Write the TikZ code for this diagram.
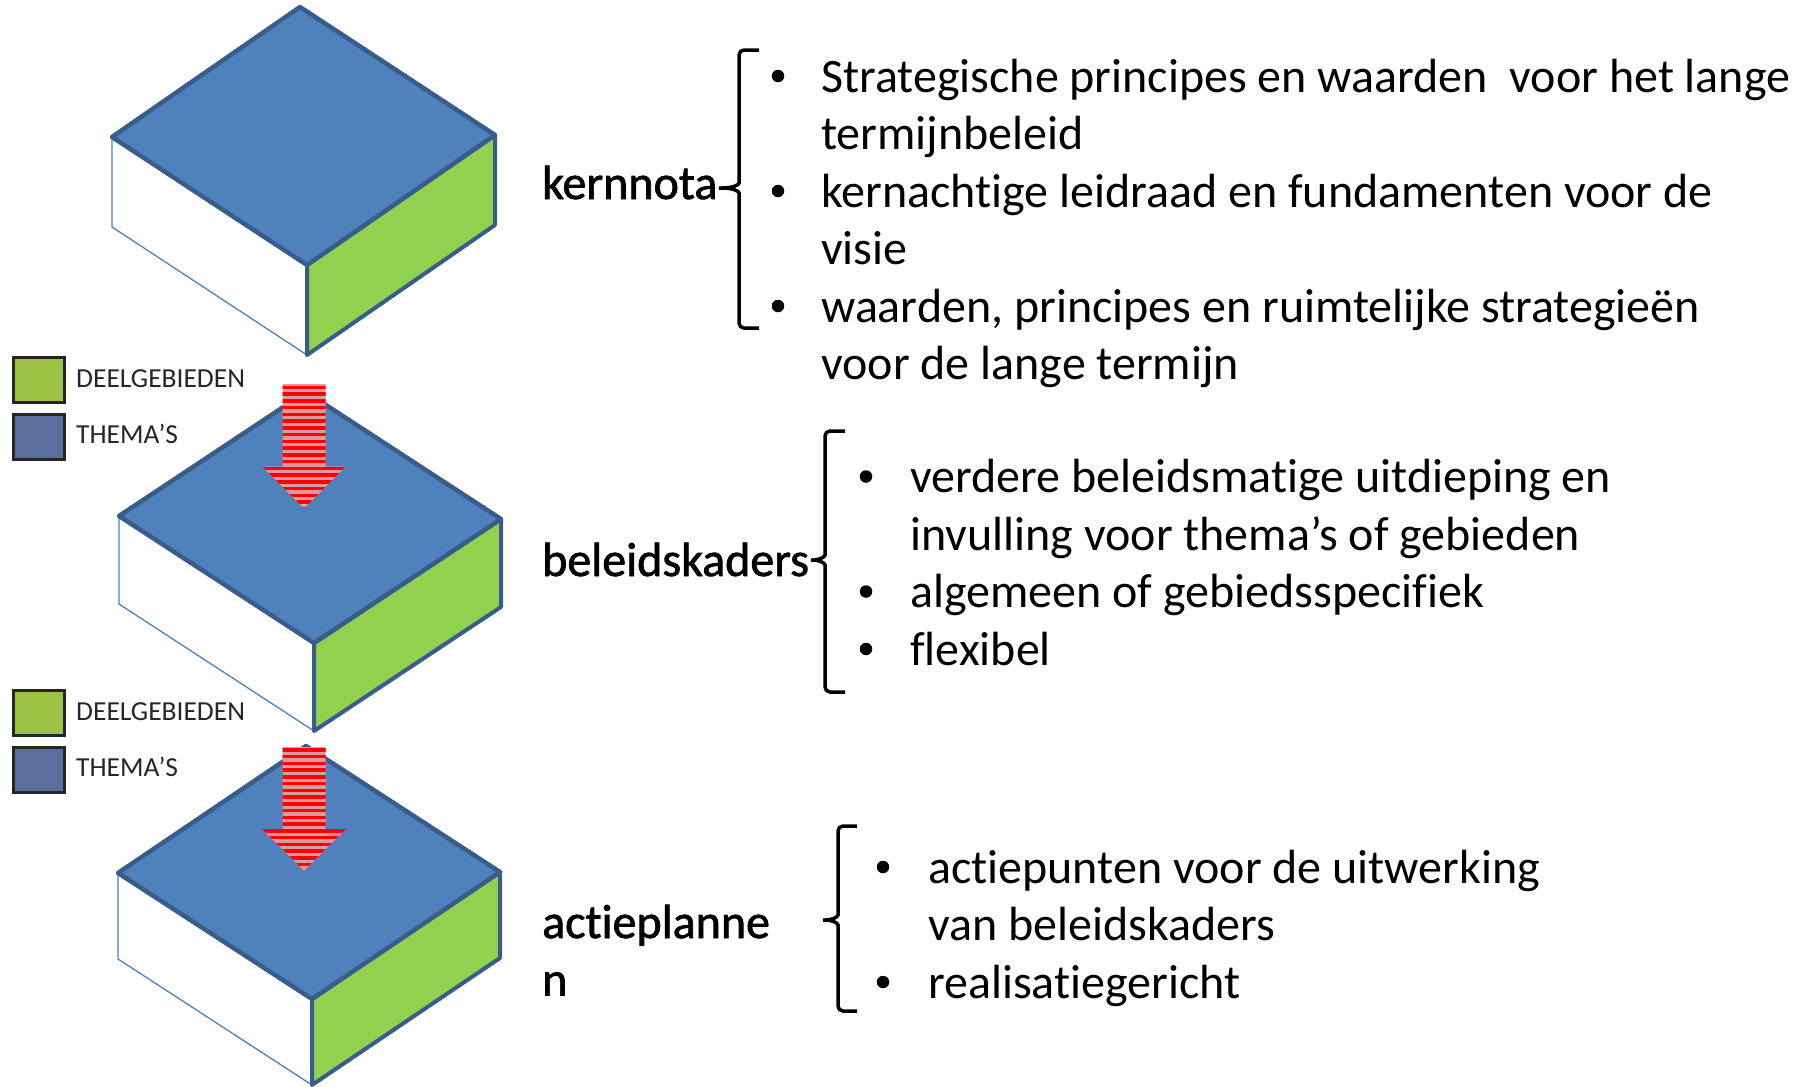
\documentclass[tikz,border=0pt]{standalone}
\usepackage{fontspec}
\setmainfont[Ligatures=NoCommon]{Carlito}
\newfontfamily\levelfont[Ligatures=NoCommon, FakeBold=1.5]{Carlito}
\definecolor{topblue}{HTML}{4F81BD}
\definecolor{edgeblue}{HTML}{385D8A}
\definecolor{sidegreen}{HTML}{92D050}
\definecolor{keygreen}{HTML}{9DC243}
\definecolor{keyblue}{HTML}{5A6F9B}
\definecolor{stripepink}{HTML}{DE9A9A}
\tikzset{
	topface/.style={fill=topblue, draw=edgeblue, line width=4.5pt, line join=round},
	greenface/.style={fill=sidegreen, draw=edgeblue, line width=4pt, line join=round},
	whiteface/.style={fill=white, draw=topblue, line width=1.3pt},
	keybox/.style={draw=black!85, line width=3pt},
	keytext/.style={anchor=west, inner sep=0pt, text=black!85, font=\fontsize{27.5}{30}\selectfont},
	level/.style={anchor=base west, inner sep=0pt, font=\levelfont\fontsize{48}{55}\selectfont},
	item/.style={anchor=base west, inner sep=0pt, font=\fontsize{48}{55}\selectfont},
	bul/.style={circle, fill=black, inner sep=0pt, minimum size=12.5pt},
	brace/.style={draw=black, line width=3.5pt, rounded corners=5pt}
}
\begin{document}
\begin{tikzpicture}[x=1pt, y=-1pt]
		\useasboundingbox (0,0) rectangle (1810,1087);
		% the three blocks
		\foreach \lx/\ly/\rx/\ry/\fx/\fy/\tx/\ty/\h in {112/137/495/135/307/265/300/7/90, 119/516/501/519/314/643/306/392/88, 118/873/500/872/312/999/306/746/86}
		{
			\draw [whiteface] (\lx,\ly) -- (\fx,\fy) -- (\fx,{\fy+\h}) -- (\lx,{\ly+\h}) -- cycle;
			\draw [greenface] (\fx,\fy) -- (\rx,\ry) -- (\rx,{\ry+\h}) -- (\fx,{\fy+\h}) -- cycle;
			\draw [topface] (\tx,\ty) -- (\rx,\ry) -- (\fx,\fy) -- (\lx,\ly) -- cycle;
		}
		% striped arrows
		\foreach \ay in {384,746.5}
		{
			\begin{scope}
				\path [clip] (282.5,\ay) -- (325.5,\ay) -- (325.5,{\ay+82.5}) -- (346,{\ay+82.5}) -- (304,{\ay+124.3}) -- (262,{\ay+82.5}) -- (282.5,{\ay+82.5}) -- cycle;
				\fill [stripepink] (255,\ay) rectangle (350,{\ay+126});
				\foreach \s in {0,...,18}
					\fill [red] (255,{\ay+1.7+\s*6.75}) rectangle (350,{\ay+5.1+\s*6.75});
			\end{scope}
		}
		% legends
		\foreach \ky in {0,333}
		{
			\draw [keybox, fill=keygreen] (13,{357+\ky}) rectangle (64,{402+\ky});
			\draw [keybox, fill=keyblue] (13,{414+\ky}) rectangle (64,{459+\ky});
		}
		\node [keytext] (deel1) at (76,379) {DEELGEBIEDEN};
		\node [keytext] (thema1) at (76,434) {THEMA’S};
		\node [keytext] (deel2) at (76,712) {DEELGEBIEDEN};
		\node [keytext] (thema2) at (76,767) {THEMA’S};
		% levels
		\node [level] (kern) at (542,199) {kernnota};
		\node [level] (kader) at (542,576) {beleidskaders};
		\node [level] (actie) at (542,938) {actieplanne};
		\node [level] (actieb) at (542,995.5) {n};
		\coordinate (kerntip) at (716,188);
		\coordinate (kadertip) at (808,560);
		\coordinate (actietip) at (820,920);
		\draw [brace] (759,50) -- (739,50) -- (739,178) .. controls (739,185) and (733,188) .. (kerntip) .. controls (733,188) and (739,191) .. (739,198) -- (739,328) -- (759,328);
		\draw [brace] (845,431) -- (825,431) -- (825,550) .. controls (825,557) and (819,560) .. (kadertip) .. controls (819,560) and (825,563) .. (825,570) -- (825,692) -- (845,692);
		\draw [brace] (857,826) -- (838,826) -- (838,910) .. controls (838,917) and (832,920) .. (actietip) .. controls (832,920) and (838,923) .. (838,930) -- (838,1011) -- (857,1011);
		% kernnota items
		\node [bul] (b11) at (778,76) {};
		\node [item] (k1a) at (821,92) {Strategische principes en waarden\ \ voor het lange};
		\node [item] (k1b) at (821,149.5) {termijnbeleid};
		\node [bul] (b12) at (778,191) {};
		\node [item] (k2a) at (821,207) {kernachtige leidraad en fundamenten voor de};
		\node [item] (k2b) at (821,264.5) {visie};
		\node [bul] (b13) at (778,306) {};
		\node [item] (k3a) at (821,322) {waarden, principes en ruimtelijke strategieën};
		\node [item] (k3b) at (821,379.5) {voor de lange termijn};
		% beleidskaders items
		\node [bul] (b21) at (866,476.5) {};
		\node [item] (c1a) at (910,492.5) {verdere beleidsmatige uitdieping en};
		\node [item] (c1b) at (910,550) {invulling voor thema’s of gebieden};
		\node [bul] (b22) at (866,591.5) {};
		\node [item] (c2a) at (910,607.5) {algemeen of gebiedsspecifiek};
		\node [bul] (b23) at (866,649) {};
		\node [item] (c3a) at (910,665) {flexibel};
		% actieplannen items
		\node [bul] (b31) at (883,867) {};
		\node [item] (a1a) at (928,883) {actiepunten voor de uitwerking};
		\node [item] (a1b) at (928,940.5) {van beleidskaders};
		\node [bul] (b32) at (883,982) {};
		\node [item] (a2a) at (928,998) {realisatiegericht};
\end{tikzpicture}
\end{document}
